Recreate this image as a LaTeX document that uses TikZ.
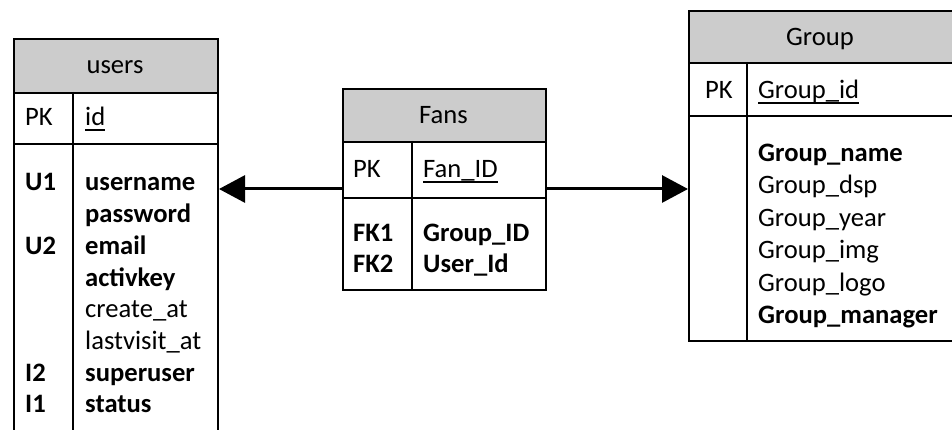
\documentclass[tikz,border=0pt]{standalone}
\usepackage{fontspec}
\setmainfont{Carlito}
\usetikzlibrary{arrows.meta}
\begin{document}
\begin{tikzpicture}[x=1pt,y=-1pt,
  frame/.style={draw=black, line width=2pt, inner sep=0pt, anchor=north west},
  hdr/.style={frame, fill=gray!40},
  cell/.style={frame, fill=white},
  txt/.style={anchor=base west, inner sep=0pt, font=\fontsize{26.6}{31}\selectfont},
  btxt/.style={anchor=base west, inner sep=0pt, font=\fontsize{26.6}{31}\selectfont\bfseries},
  ttl/.style={anchor=base, inner sep=0pt, font=\fontsize{26.6}{31}\selectfont},
  colrule/.style={draw=black, line width=2pt},
  uline/.style={draw=black, line width=1.6pt},
  rel/.style={draw=black, line width=3pt, -{Triangle[length=26pt,width=27pt]}}]
\useasboundingbox (0,0) rectangle (952,430);
\clip (0,0) rectangle (952,430);

% ---------- users ----------
\node[hdr,  minimum width=204pt, minimum height=54pt]  (usersHead) at (13,38)  {};
\node[cell, minimum width=204pt, minimum height=51pt]  (usersPK)   at (13,92)  {};
\node[cell, minimum width=204pt, minimum height=340pt] (usersBody) at (13,143) {};
\draw[colrule] (73,92) -- (73,483);
\node[ttl] (usersTitle) at (115,74) {users};
\node[txt] (usersPKk) at (25,126) {PK};
\node[txt] (usersId)  at (85,126) {id};
\draw[uline] ([yshift=-4pt]usersId.base west) -- ([yshift=-4pt]usersId.base east);
\node[btxt] (uk1) at (25,191) {U1};
\node[btxt] (uk2) at (25,254.4) {U2};
\node[btxt] (uk3) at (25,381.2) {I2};
\node[btxt] (uk4) at (25,412.9) {I1};
\node[btxt] (uf1) at (85,191) {username};
\node[btxt] (uf2) at (85,222.7) {password};
\node[btxt] (uf3) at (85,254.4) {email};
\node[btxt] (uf4) at (85,286.1) {activkey};
\node[txt]  (uf5) at (85,317.8) {create\_at};
\node[txt]  (uf6) at (85,349.5) {lastvisit\_at};
\node[btxt] (uf7) at (85,381.2) {superuser};
\node[btxt] (uf8) at (85,412.9) {status};

% ---------- Fans ----------
\node[hdr,  minimum width=203pt, minimum height=53pt] (fansHead) at (342,88)  {};
\node[cell, minimum width=203pt, minimum height=56pt] (fansPK)   at (342,141) {};
\node[cell, minimum width=203pt, minimum height=92pt] (fansBody) at (342,197) {};
\draw[colrule] (412,141) -- (412,289);
\node[ttl] (fansTitle) at (443.5,124) {Fans};
\node[txt] (fansPKk) at (353,178) {PK};
\node[txt] (fansId)  at (423,178) {Fan\_ID};
\draw[uline] ([yshift=-4pt]fansId.base west) -- ([yshift=-4pt]fansId.base east);
\node[btxt] (fk1) at (353,241.5) {FK1};
\node[btxt] (fk2) at (353,272.5) {FK2};
\node[btxt] (ff1) at (423,241.5) {Group\_ID};
\node[btxt] (ff2) at (423,272.5) {User\_Id};

% ---------- Group ----------
\node[hdr,  minimum width=265pt, minimum height=52pt]  (groupHead) at (688,10)  {};
\node[cell, minimum width=265pt, minimum height=53pt]  (groupPK)   at (688,62)  {};
\node[cell, minimum width=265pt, minimum height=225pt] (groupBody) at (688,115) {};
\draw[colrule] (747,62) -- (747,340);
\node[ttl] (groupTitle) at (820,46) {Group};
\node[txt] (groupPKk) at (705,99) {PK};
\node[txt] (groupId)  at (758,99) {Group\_id};
\draw[uline] ([yshift=-4pt]groupId.base west) -- ([yshift=-4pt]groupId.base east);
\node[btxt] (gf1) at (758,161.5) {Group\_name};
\node[txt]  (gf2) at (758,193.9) {Group\_dsp};
\node[txt]  (gf3) at (758,226.3) {Group\_year};
\node[txt]  (gf4) at (758,258.7) {Group\_img};
\node[txt]  (gf5) at (758,291.1) {Group\_logo};
\node[btxt] (gf6) at (758,323.5) {Group\_manager};

% ---------- relationships ----------
\coordinate (relY) at (0,189);
\draw[rel] (fansPK.west |- relY) -- (usersBody.east |- relY);
\draw[rel] (fansPK.east |- relY) -- (groupBody.west |- relY);
\end{tikzpicture}
\end{document}
